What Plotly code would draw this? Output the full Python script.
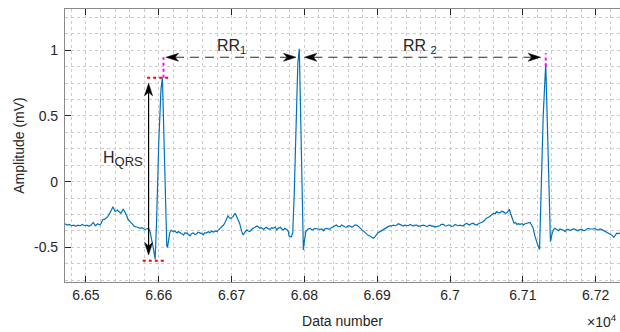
import numpy as np
import plotly.graph_objects as go

# ---------------- data ----------------
data_number = [
    66471, 66474, 66477, 66480, 66483, 66486, 66489, 66492, 66495, 66498,
    66501, 66504, 66507, 66510, 66513, 66516, 66519, 66521, 66523, 66526,
    66530, 66533, 66535, 66537, 66539, 66540, 66543, 66546, 66548, 66551,
    66553, 66556, 66558, 66560, 66563, 66565, 66567, 66570, 66574, 66577,
    66581, 66583, 66586, 66588, 66591, 66593, 66595, 66597, 66600, 66603,
    66605, 66607, 66609, 66611, 66612, 66615,
    66617, 66620, 66622, 66625, 66627, 66629, 66631, 66634, 66636, 66638,
    66640, 66643, 66645, 66647, 66650, 66652, 66654, 66657, 66659, 66661,
    66663, 66666, 66668, 66670, 66673, 66675, 66677, 66680, 66682, 66684,
    66686, 66689, 66691, 66693, 66695, 66697, 66699, 66701, 66702, 66705,
    66707, 66708, 66711, 66714, 66716, 66718, 66721, 66723, 66725, 66728,
    66730, 66732, 66735, 66737, 66739, 66741, 66744, 66746, 66748, 66750,
    66753, 66755, 66757, 66760, 66762, 66764, 66767, 66769, 66771, 66773,
    66776, 66778, 66779, 66782, 66784, 66786, 66788, 66791, 66793, 66795,
    66797, 66798.6, 66800, 66802,
    66805, 66808, 66810, 66812, 66814, 66817, 66819, 66821, 66824, 66826,
    66828, 66831, 66833, 66835, 66837, 66840, 66842, 66844, 66846, 66849,
    66851, 66853, 66856, 66858, 66860, 66863, 66865, 66867, 66869, 66872,
    66874, 66876, 66879, 66881, 66883, 66886, 66888, 66890, 66892, 66895,
    66897, 66899, 66901, 66904, 66906, 66908, 66911, 66913, 66915, 66918,
    66920, 66922, 66925, 66927, 66929, 66931, 66934, 66936, 66938, 66940,
    66943, 66945, 66947, 66950, 66952, 66954, 66957, 66959, 66961, 66963,
    66966, 66968, 66970, 66973, 66975, 66977, 66979, 66982, 66984, 66986,
    66988, 66991, 66993, 66995, 66998, 67000, 67002, 67005, 67007, 67009,
    67011, 67014, 67016, 67018, 67020, 67023, 67025, 67027, 67029, 67032,
    67034, 67037, 67039, 67041, 67043, 67046, 67048, 67050, 67053, 67055,
    67057, 67060, 67062, 67064, 67066, 67069, 67071, 67073, 67076, 67078,
    67080, 67081.5, 67083, 67085, 67088, 67090, 67092, 67094, 67096, 67099,
    67101, 67103, 67105, 67108, 67110, 67112, 67114, 67117, 67119, 67121,
    67123, 67125, 67128, 67131.5, 67134, 67136, 67138, 67140, 67142, 67144,
    67146, 67149, 67151, 67153, 67156, 67158, 67160, 67162, 67165, 67167,
    67169, 67172, 67174, 67176, 67178, 67181, 67183, 67185, 67188, 67190,
    67192, 67195, 67197, 67199, 67201, 67204, 67206, 67208, 67211, 67213,
    67215, 67217, 67220, 67222, 67225, 67227, 67229, 67231, 67234,
]

amplitude = [
    -0.32, -0.33, -0.325, -0.335, -0.33, -0.34, -0.33, -0.335, -0.325, -0.335,
    -0.33, -0.34, -0.33, -0.31, -0.335, -0.32, -0.33, -0.315, -0.29, -0.285,
    -0.266, -0.24, -0.215, -0.19, -0.215, -0.228, -0.215, -0.235, -0.24, -0.21,
    -0.225, -0.26, -0.29, -0.30, -0.316, -0.33, -0.342, -0.345, -0.355, -0.35,
    -0.363, -0.36, -0.355, -0.38, -0.45, -0.52, -0.59, -0.30, 0.30, 0.70,
    0.79, 0.30, -0.20, -0.49, -0.50, -0.39,
    -0.37, -0.38, -0.375, -0.39, -0.38, -0.39, -0.395, -0.405, -0.39, -0.39,
    -0.40, -0.413, -0.395, -0.39, -0.40, -0.398, -0.385, -0.39, -0.395, -0.405,
    -0.39, -0.39, -0.38, -0.388, -0.375, -0.385, -0.375, -0.38, -0.365, -0.355,
    -0.345, -0.33, -0.31, -0.28, -0.26, -0.275, -0.28, -0.27, -0.266, -0.24,
    -0.265, -0.28, -0.316, -0.38, -0.405, -0.385, -0.367, -0.375, -0.38, -0.36,
    -0.355, -0.345, -0.337, -0.345, -0.355, -0.35, -0.363, -0.352, -0.347, -0.357,
    -0.363, -0.35, -0.355, -0.345, -0.367, -0.355, -0.347, -0.36, -0.367, -0.355,
    -0.363, -0.38, -0.413, -0.42, -0.39, -0.10, 0.40, 0.90, 1.01, 0.50,
    -0.10, -0.52, -0.45, -0.38,
    -0.36, -0.355, -0.365, -0.367, -0.355, -0.355, -0.36, -0.363, -0.36, -0.373,
    -0.36, -0.355, -0.36, -0.363, -0.35, -0.342, -0.335, -0.33, -0.34, -0.342,
    -0.33, -0.337, -0.345, -0.347, -0.335, -0.337, -0.345, -0.342, -0.33, -0.33,
    -0.34, -0.355, -0.365, -0.38, -0.39, -0.405, -0.41, -0.413, -0.42, -0.43,
    -0.42, -0.405, -0.388, -0.38, -0.373, -0.36, -0.355, -0.345, -0.342, -0.335,
    -0.337, -0.33, -0.335, -0.33, -0.32, -0.325, -0.335, -0.337, -0.33, -0.33,
    -0.335, -0.325, -0.33, -0.337, -0.33, -0.33, -0.34, -0.337, -0.33, -0.33,
    -0.335, -0.342, -0.335, -0.33, -0.34, -0.337, -0.345, -0.342, -0.335, -0.335,
    -0.325, -0.325, -0.335, -0.337, -0.33, -0.33, -0.34, -0.337, -0.325, -0.33,
    -0.335, -0.33, -0.335, -0.337, -0.325, -0.316, -0.325, -0.33, -0.32, -0.316,
    -0.325, -0.33, -0.32, -0.316, -0.31, -0.303, -0.29, -0.278, -0.27, -0.26,
    -0.255, -0.24, -0.245, -0.228, -0.235, -0.236, -0.225, -0.228, -0.24, -0.236,
    -0.225, -0.21, -0.24, -0.266, -0.316, -0.31, -0.325, -0.32, -0.325, -0.32,
    -0.33, -0.32, -0.316, -0.31, -0.31, -0.33, -0.35, -0.42, -0.46, -0.49,
    -0.515, -0.10, 0.50, 0.90, 0.30, -0.20, -0.456, -0.40, -0.367, -0.355,
    -0.36, -0.373, -0.36, -0.363, -0.37, -0.38, -0.365, -0.363, -0.37, -0.367,
    -0.36, -0.363, -0.37, -0.373, -0.365, -0.363, -0.37, -0.373, -0.36, -0.355,
    -0.36, -0.363, -0.36, -0.355, -0.365, -0.367, -0.36, -0.363, -0.37, -0.38,
    -0.385, -0.39, -0.40, -0.405, -0.423, -0.405, -0.392, -0.395, -0.39,
]

x_tick_vals = [66500, 66600, 66700, 66800, 66900, 67000, 67100, 67200]
x_tick_text = ["6.65", "6.66", "6.67", "6.68", "6.69", "6.7", "6.71", "6.72"]
y_tick_vals = [-0.5, 0, 0.5, 1]
y_tick_text = ["-0.5", "0", "0.5", "1"]

# ---------------- layout geometry ----------------
W, H = 620, 332
M_L, M_R, M_T, M_B = 65, 0, 9, 50
X_RANGE = [66471.2, 67233.5]
Y_RANGE = [-0.763, 1.313]
sx = (X_RANGE[1] - X_RANGE[0]) / (W - M_L - M_R)   # data units per pixel (x)
sy = (Y_RANGE[1] - Y_RANGE[0]) / (H - M_T - M_B)   # data units per pixel (y)

# ---------------- derived positions ----------------
xs = np.array(data_number, dtype=float)
ys = np.array(amplitude, dtype=float)
peak_idx = [i for i in range(1, len(ys) - 1)
            if ys[i] > 0.5 and ys[i] >= ys[i - 1] and ys[i] >= ys[i + 1]]
r_x = [xs[i] for i in peak_idx]
r_y = [ys[i] for i in peak_idx]
q_i = int(np.argmin(ys[: peak_idx[0] + 1]))
q_x, q_y = xs[q_i], ys[q_i]

arrow_y = 0.946
FONT = "Liberation Sans, Arial, sans-serif"
TXT = "#262626"

# arrowhead geometry in pixels (MATLAB "vback2"-like)
HEAD_L, HEAD_W, HEAD_N = 12.5, 4.0, 3.5


def head_path(tx, ty, dx, dy):
    """Arrowhead with tip at (tx, ty) pointing in pixel direction (dx, dy)."""
    px, py = -dy, dx  # perpendicular
    pts = [
        (0, 0),
        (-dx * HEAD_L + px * HEAD_W, -dy * HEAD_L + py * HEAD_W),
        (-dx * (HEAD_L - HEAD_N), -dy * (HEAD_L - HEAD_N)),
        (-dx * HEAD_L - px * HEAD_W, -dy * HEAD_L - py * HEAD_W),
    ]
    coords = [(tx + ux * sx, ty + uy * sy) for ux, uy in pts]
    return "M" + " L".join(f"{a:.3f},{b:.5f}" for a, b in coords) + " Z"


fig = go.Figure()
fig.add_trace(go.Scatter(x=data_number, y=amplitude, mode="lines",
                         line=dict(color="#0072BD", width=1.2),
                         hoverinfo="skip", showlegend=False))

shapes = []
inner = (HEAD_L - HEAD_N)
# dashed RR arrows
rr_segments = [(r_x[0] + 5, r_x[1] - 4.5), (r_x[1] + 7, r_x[2] - 7)]
for a, b in rr_segments:
    shapes.append(dict(type="line", xref="x", yref="y",
                       x0=a + inner * sx, x1=b - inner * sx,
                       y0=arrow_y, y1=arrow_y,
                       line=dict(color="#2b2b2b", width=1.2, dash="9px,6px")))
    shapes.append(dict(type="path", xref="x", yref="y", path=head_path(a, arrow_y, -1, 0),
                       fillcolor="#000000", line=dict(color="#000000", width=0.5)))
    shapes.append(dict(type="path", xref="x", yref="y", path=head_path(b, arrow_y, 1, 0),
                       fillcolor="#000000", line=dict(color="#000000", width=0.5)))

# H_QRS solid double arrow
h_x = q_x - 9
h_top, h_bot = 0.748, -0.557
shapes.append(dict(type="line", xref="x", yref="y", x0=h_x, x1=h_x,
                   y0=h_bot + inner * sy, y1=h_top - inner * sy,
                   line=dict(color="#000000", width=1.2)))
shapes.append(dict(type="path", xref="x", yref="y", path=head_path(h_x, h_top, 0, 1),
                   fillcolor="#000000", line=dict(color="#000000", width=0.5)))
shapes.append(dict(type="path", xref="x", yref="y", path=head_path(h_x, h_bot, 0, -1),
                   fillcolor="#000000", line=dict(color="#000000", width=0.5)))

# magenta dotted vertical markers
shapes.append(dict(type="line", xref="x", yref="y", x0=r_x[0] + 1.5, x1=r_x[0] + 1.5,
                   y0=r_y[0], y1=arrow_y,
                   line=dict(color="#FF00FF", width=2, dash="dot")))
shapes.append(dict(type="line", xref="x", yref="y", x0=r_x[2], x1=r_x[2],
                   y0=r_y[2] - 0.025, y1=arrow_y + 0.03,
                   line=dict(color="#FF00FF", width=2, dash="dot")))
# red dotted horizontal markers
shapes.append(dict(type="line", xref="x", yref="y", x0=r_x[0] - 21, x1=r_x[0] + 8,
                   y0=r_y[0], y1=r_y[0],
                   line=dict(color="#FF0000", width=2, dash="dot")))
shapes.append(dict(type="line", xref="x", yref="y", x0=q_x - 17, x1=q_x + 15,
                   y0=q_y - 0.012, y1=q_y - 0.012,
                   line=dict(color="#FF0000", width=2, dash="dot")))

annotations = [
    dict(x=66700.5, y=1.03, xref="x", yref="y", text="RR<sub>1</sub>",
         showarrow=False, font=dict(family=FONT, size=16, color=TXT)),
    dict(x=66959, y=1.03, xref="x", yref="y", text="RR <sub>2</sub>",
         showarrow=False, font=dict(family=FONT, size=16, color=TXT)),
    dict(x=66551, y=0.17, xref="x", yref="y",
         text="H<sub><span style='font-size:13px'>QRS</span></sub>",
         showarrow=False, font=dict(family=FONT, size=16, color=TXT)),
    dict(x=1.0, y=-0.143, xref="paper", yref="paper",
         xanchor="right", yanchor="middle", xshift=-1,
         text="×10<sup>4</sup>",
         showarrow=False, font=dict(family=FONT, size=14, color=TXT)),
]

grid_col = "#cccccc"
axis_common = dict(showline=True, linecolor="#8a8a8a", linewidth=1.2,
                   ticks="inside", ticklen=6, tickwidth=1.2, tickcolor="#262626",
                   showgrid=True, gridcolor=grid_col, griddash="dot", gridwidth=1,
                   zeroline=False,
                   tickfont=dict(family=FONT, size=14, color=TXT))

fig.update_layout(
    width=W, height=H,
    margin=dict(l=M_L, r=M_R, t=M_T, b=M_B),
    paper_bgcolor="white", plot_bgcolor="white",
    shapes=shapes, annotations=annotations,
    xaxis=dict(range=X_RANGE, tickvals=x_tick_vals, ticktext=x_tick_text,
               mirror="allticks",
               minor=dict(dtick=20, tick0=66500, showgrid=True, gridcolor=grid_col,
                          griddash="dot", ticks=""),
               title=dict(text="Data number", standoff=14,
                          font=dict(family=FONT, size=14, color=TXT)),
               **axis_common),
    yaxis=dict(range=Y_RANGE, tickvals=y_tick_vals, ticktext=y_tick_text,
               mirror=False, ticklabelstandoff=3,
               minor=dict(dtick=0.125, tick0=0, showgrid=True, gridcolor=grid_col,
                          griddash="dot", ticks=""),
               title=dict(text="Amplitude (mV)", standoff=6,
                          font=dict(family=FONT, size=14, color=TXT)),
               **axis_common),
)

fig.write_html("out.html")
